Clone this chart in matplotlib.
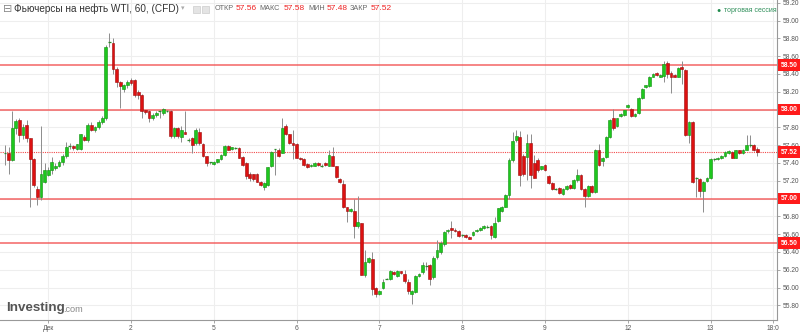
import numpy as np
import matplotlib.pyplot as plt
from matplotlib.patches import Rectangle

plt.rcParams['font.family'] = ['Liberation Sans', 'DejaVu Sans']

# Hourly candles, WTI futures (CFD)
opens = [57.51, 57.51, 57.43, 57.79, 57.88, 57.71, 57.83, 57.68, 57.44, 57.11,
         57.02, 57.18, 57.26, 57.32, 57.34, 57.37, 57.41, 57.48, 57.59, 57.59,
         57.56, 57.56, 57.69, 57.66, 57.83, 57.77, 57.80, 57.86, 57.90, 58.75,
         58.75, 58.45, 58.31, 58.23, 58.27, 58.33, 58.33, 58.20, 58.16, 57.99,
         57.98, 57.90, 57.94, 57.98, 57.96, 57.99, 57.98, 57.70, 57.79, 57.69,
         57.75, 57.66, 57.68, 57.62, 57.75, 57.61, 57.48, 57.40, 57.39, 57.41,
         57.44, 57.49, 57.59, 57.56, 57.57, 57.57, 57.47, 57.40, 57.28, 57.27,
         57.28, 57.19, 57.13, 57.15, 57.36, 57.55, 57.55, 57.51, 57.81, 57.72,
         57.62, 57.61, 57.46, 57.44, 57.39, 57.36, 57.37, 57.40, 57.37, 57.40,
         57.37, 57.48, 57.36, 57.22, 57.16, 56.90, 56.86, 56.86, 56.69, 56.72,
         56.14, 56.29, 56.32, 56.00, 55.93, 55.99, 56.10, 56.10, 56.17, 56.13,
         56.18, 56.15, 56.06, 55.93, 55.95, 56.13, 56.17, 56.25, 56.25, 56.12,
         56.34, 56.40, 56.49, 56.63, 56.67, 56.65, 56.64, 56.59, 56.59, 56.57,
         56.59, 56.63, 56.65, 56.67, 56.69, 56.69, 56.57, 56.75, 56.86, 56.91,
         57.04, 57.43, 57.66, 57.69, 57.48, 57.47, 57.62, 57.40, 57.43, 57.33,
         57.38, 57.25, 57.17, 57.10, 57.12, 57.05, 57.11, 57.15, 57.12, 57.21,
         57.26, 57.11, 57.03, 57.14, 57.07, 57.55, 57.42, 57.47, 57.69, 57.90,
         57.81, 57.93, 57.94, 58.03, 58.01, 57.93, 57.96, 58.13, 58.25, 58.26,
         58.37, 58.41, 58.37, 58.38, 58.52, 58.41, 58.39, 58.37, 58.48, 58.44,
         57.71, 57.86, 57.22, 57.22, 57.08, 57.20, 57.23, 57.44, 57.44, 57.45,
         57.48, 57.51, 57.52, 57.46, 57.54, 57.51, 57.55, 57.60, 57.60, 57.56]
highs = [57.60, 57.58, 57.98, 57.89, 57.90, 57.84, 57.88, 57.68, 57.46, 57.14,
         57.81, 57.40, 57.35, 57.47, 57.40, 57.43, 57.50, 57.63, 57.62, 57.60,
         57.61, 57.73, 57.71, 57.85, 57.86, 57.82, 57.88, 57.93, 58.72, 58.86,
         58.80, 58.48, 58.32, 58.29, 58.33, 58.35, 58.34, 58.22, 58.17, 58.00,
         57.99, 57.96, 57.98, 58.00, 58.02, 58.00, 58.00, 57.80, 57.80, 57.81,
         57.98, 57.68, 57.69, 57.79, 57.79, 57.62, 57.48, 57.41, 57.42, 57.44,
         57.50, 57.60, 57.60, 57.58, 57.58, 57.58, 57.48, 57.41, 57.30, 57.28,
         57.29, 57.20, 57.18, 57.35, 57.53, 57.56, 57.57, 57.90, 57.84, 57.73,
         57.77, 57.62, 57.47, 57.45, 57.40, 57.39, 57.41, 57.41, 57.39, 57.41,
         57.54, 57.58, 57.37, 57.23, 57.21, 56.91, 56.89, 57.00, 57.03, 56.73,
         56.42, 56.34, 56.40, 56.01, 55.97, 56.09, 56.11, 56.20, 56.18, 56.20,
         56.19, 56.20, 56.09, 55.97, 56.14, 56.16, 56.29, 56.29, 56.26, 56.35,
         56.53, 56.52, 56.63, 56.66, 56.75, 56.67, 56.65, 56.60, 56.60, 56.58,
         56.63, 56.66, 56.68, 56.70, 56.70, 56.70, 56.79, 56.89, 56.92, 57.05,
         57.46, 57.75, 57.77, 57.76, 57.50, 57.73, 57.73, 57.49, 57.45, 57.37,
         57.39, 57.26, 57.18, 57.12, 57.13, 57.12, 57.15, 57.16, 57.22, 57.33,
         57.27, 57.12, 57.15, 57.15, 57.56, 57.61, 57.47, 57.70, 57.89, 58.01,
         57.91, 57.96, 58.00, 58.06, 58.02, 57.96, 58.14, 58.24, 58.28, 58.38,
         58.41, 58.42, 58.40, 58.54, 58.54, 58.43, 58.40, 58.48, 58.54, 58.45,
         57.87, 57.87, 57.24, 57.23, 57.20, 57.24, 57.45, 57.46, 57.47, 57.49,
         57.53, 57.54, 57.53, 57.55, 57.55, 57.56, 57.71, 57.71, 57.61, 57.58]
lows = [57.38, 57.28, 57.42, 57.73, 57.64, 57.67, 57.64, 56.91, 57.13, 56.93,
        56.98, 57.17, 57.25, 57.28, 57.32, 57.35, 57.38, 57.46, 57.56, 57.55,
        57.54, 57.55, 57.65, 57.64, 57.76, 57.75, 57.78, 57.84, 57.88, 58.70,
        58.40, 58.25, 58.02, 58.20, 58.24, 58.28, 58.14, 58.12, 57.90, 57.95,
        57.86, 57.88, 57.92, 57.90, 57.94, 57.97, 57.68, 57.68, 57.68, 57.64,
        57.73, 57.64, 57.51, 57.60, 57.60, 57.47, 57.36, 57.39, 57.38, 57.40,
        57.43, 57.48, 57.54, 57.55, 57.56, 57.46, 57.37, 57.22, 57.20, 57.20,
        57.18, 57.14, 57.10, 57.14, 57.35, 57.26, 57.47, 57.51, 57.71, 57.61,
        57.44, 57.46, 57.43, 57.37, 57.34, 57.35, 57.36, 57.37, 57.35, 57.37,
        57.36, 57.36, 57.23, 57.17, 56.89, 56.74, 56.85, 56.56, 56.67, 56.14,
        56.12, 56.27, 55.92, 55.89, 55.92, 55.98, 56.09, 56.08, 56.14, 56.12,
        56.15, 56.05, 55.93, 55.82, 55.94, 56.12, 56.15, 56.20, 56.03, 56.09,
        56.32, 56.38, 56.47, 56.61, 56.56, 56.62, 56.57, 56.57, 56.56, 56.54,
        56.58, 56.62, 56.64, 56.66, 56.67, 56.54, 56.56, 56.74, 56.85, 56.90,
        57.00, 57.41, 57.63, 57.14, 57.25, 57.21, 57.12, 57.23, 57.30, 57.32,
        57.31, 57.16, 57.10, 57.09, 57.05, 57.04, 57.10, 57.11, 57.11, 57.19,
        57.10, 56.91, 57.02, 57.06, 57.06, 57.36, 57.36, 57.46, 57.68, 57.77,
        57.80, 57.92, 57.93, 58.02, 57.92, 57.92, 57.95, 58.12, 58.24, 58.25,
        58.36, 58.38, 58.36, 58.31, 58.35, 58.19, 58.36, 58.36, 58.29, 57.70,
        57.62, 57.17, 57.02, 57.02, 56.85, 57.19, 57.22, 57.42, 57.43, 57.44,
        57.47, 57.50, 57.45, 57.45, 57.50, 57.50, 57.54, 57.58, 57.53, 57.48]
closes = [57.52, 57.43, 57.79, 57.87, 57.71, 57.80, 57.68, 57.44, 57.15, 57.02,
          57.28, 57.32, 57.32, 57.41, 57.37, 57.41, 57.48, 57.58, 57.59, 57.57,
          57.61, 57.72, 57.66, 57.83, 57.77, 57.80, 57.86, 57.90, 58.70, 58.76,
          58.45, 58.31, 58.26, 58.27, 58.31, 58.30, 58.16, 58.16, 57.98, 57.97,
          57.91, 57.94, 57.96, 57.98, 58.01, 57.98, 57.70, 57.79, 57.70, 57.77,
          57.73, 57.66, 57.60, 57.77, 57.62, 57.48, 57.40, 57.41, 57.41, 57.44,
          57.49, 57.59, 57.55, 57.58, 57.57, 57.46, 57.38, 57.25, 57.23, 57.22,
          57.19, 57.15, 57.17, 57.35, 57.52, 57.56, 57.48, 57.79, 57.72, 57.62,
          57.60, 57.46, 57.44, 57.38, 57.35, 57.38, 57.40, 57.38, 57.37, 57.38,
          57.49, 57.36, 57.24, 57.18, 56.90, 56.86, 56.88, 56.69, 56.74, 56.14,
          56.29, 56.33, 55.98, 55.93, 55.96, 56.06, 56.10, 56.19, 56.15, 56.19,
          56.16, 56.07, 55.96, 55.96, 56.13, 56.15, 56.25, 56.24, 56.10, 56.33,
          56.42, 56.50, 56.62, 56.65, 56.65, 56.63, 56.58, 56.58, 56.57, 56.55,
          56.62, 56.65, 56.67, 56.69, 56.68, 56.59, 56.73, 56.89, 56.91, 57.04,
          57.43, 57.65, 57.70, 57.26, 57.27, 57.62, 57.26, 57.23, 57.32, 57.36,
          57.32, 57.17, 57.11, 57.11, 57.06, 57.11, 57.14, 57.12, 57.21, 57.26,
          57.11, 57.03, 57.14, 57.07, 57.55, 57.38, 57.46, 57.69, 57.88, 57.79,
          57.90, 57.95, 57.99, 58.05, 57.93, 57.95, 58.13, 58.23, 58.27, 58.37,
          58.40, 58.39, 58.39, 58.51, 58.40, 58.37, 58.37, 58.47, 58.45, 57.71,
          57.86, 57.18, 57.23, 57.08, 57.19, 57.23, 57.44, 57.44, 57.46, 57.48,
          57.52, 57.53, 57.46, 57.54, 57.51, 57.55, 57.60, 57.60, 57.54, 57.52]

day_ticks = [12, 35, 58, 81, 104, 127, 150, 173, 196, 213.4]
day_labels = ['Дек', '2', '5', '6', '7', '8', '9', '12', '13', '18:0']
levels = [58.5, 58.0, 57.0, 56.5]
last_price = 57.52
ohlc_labels = ['ОТКР', 'МАКС', 'МИН', 'ЗАКР']
ohlc_values = ['57.56', '57.58', '57.48', '57.52']

W, H = 800, 332
fig = plt.figure(figsize=(W / 100, H / 100), dpi=100)
ax = fig.add_axes([0, 12 / H, 777 / W, 1 - 12 / H])

# grid
yt = np.round(np.arange(55.8, 59.21, 0.2), 2)
for v in yt:
    ax.axhline(v, color='#eeeeee', lw=0.75, zorder=0)
for t in day_ticks:
    ax.axvline(t, color='#eeeeee', lw=0.75, zorder=0)

# levels
for lv in levels:
    ax.axhline(lv, color='#f24a4a', lw=1.1, alpha=0.85, zorder=1)
ax.axhline(last_price, color='#f24a4a', lw=0.8, ls=(0, (1, 1)), zorder=1)

# candles
x = np.arange(len(closes))
o = np.array(opens); h = np.array(highs); l = np.array(lows); c = np.array(closes)
ax.vlines(x, l, h, color='#8c8c8c', lw=0.7, zorder=2)
bw = 0.74
for i in range(len(x)):
    up = c[i] >= o[i]
    fc = '#1ec71e' if up else '#dd1111'
    ec = '#0e8f0e' if up else '#9c0a0a'
    lo = min(o[i], c[i]); ht = abs(c[i] - o[i])
    if ht < 0.012:
        ax.hlines((o[i] + c[i]) / 2, x[i] - bw / 2, x[i] + bw / 2,
                  color='#2a8a2a', lw=0.9, zorder=3)
    else:
        ax.add_patch(Rectangle((x[i] - bw / 2, lo), bw, ht, fc=fc, ec=ec,
                               lw=0.4, zorder=3))

ax.set_xlim(-5 / 3.6, 772 / 3.6)
ax.set_ylim(58.5 - 255 / 89, 58.5 + 65 / 89)

for s in ['top', 'left']:
    ax.spines[s].set_visible(False)
for s in ['right', 'bottom']:
    ax.spines[s].set_color('#999999')
    ax.spines[s].set_linewidth(0.8)

# tick labels hidden where a red price box sits on top of them
ax.yaxis.tick_right()
ax.set_yticks(yt)
ax.set_yticklabels(['' if any(abs(v - lv) < 0.01 for lv in levels) else f'{v:.2f}'
                    for v in yt])
ax.tick_params(axis='y', labelsize=4.8, colors='#999999', labelcolor='#555555',
               length=2.5, width=0.6, pad=1.5)
ax.set_xticks(day_ticks)
ax.set_xticklabels(day_labels)
ax.tick_params(axis='x', labelsize=4.8, colors='#999999', labelcolor='#555555',
               length=2, width=0.6, pad=1.5)

# red price boxes on the right axis
for lv in levels + [last_price]:
    ax.annotate(f'{lv:.2f}', xy=(1.0, lv), xycoords=('axes fraction', 'data'),
                xytext=(2.5, 0), textcoords='offset points', ha='left', va='center',
                fontsize=4.9, color='white', fontweight='bold', zorder=10,
                bbox=dict(boxstyle='square,pad=0.35', fc='#ff1a1a', ec='none'),
                annotation_clip=False)

def ftext(px, py, s, **kw):
    fig.text(px / W, 1 - py / H, s, **kw)

# header
ftext(3, 9, '⊟', fontsize=8, color='#888888', va='center', ha='left')
ftext(14, 9, 'Фьючерсы на нефть WTI, 60, (CFD)', fontsize=7.2, color='#333333',
      va='center', ha='left')
ftext(181, 9, '▾', fontsize=5, color='#aaaaaa', va='center', ha='left')
for px in (193, 202):
    fig.patches.append(Rectangle((px / W, 1 - 13 / H), 7 / W, 7 / H, fc='#e4e4e4',
                                 ec='#cccccc', lw=0.5, transform=fig.transFigure))
lab_x = [215, 259, 308, 350]
val_x = [236, 284, 327, 371]
for lx, vx, lb, vv in zip(lab_x, val_x, ohlc_labels, ohlc_values):
    ftext(lx, 9, lb, fontsize=5.2, color='#666666', va='center', ha='left')
    ftext(vx, 9, vv, fontsize=6, color='#ee2222', va='center', ha='left')

ftext(719, 10, '●', fontsize=5, color='#1f8a4c', va='center', ha='center')
ftext(724, 10, 'торговая сессия', fontsize=5, color='#2f8f5a', va='center', ha='left')

# logo
ftext(6, 308, 'Investing', fontsize=9.6, fontweight='bold', color='#555555',
      va='center', ha='left')
ftext(63, 310, '.com', fontsize=6.6, color='#888888', va='center', ha='left')

fig.savefig('out.png', dpi=100)
